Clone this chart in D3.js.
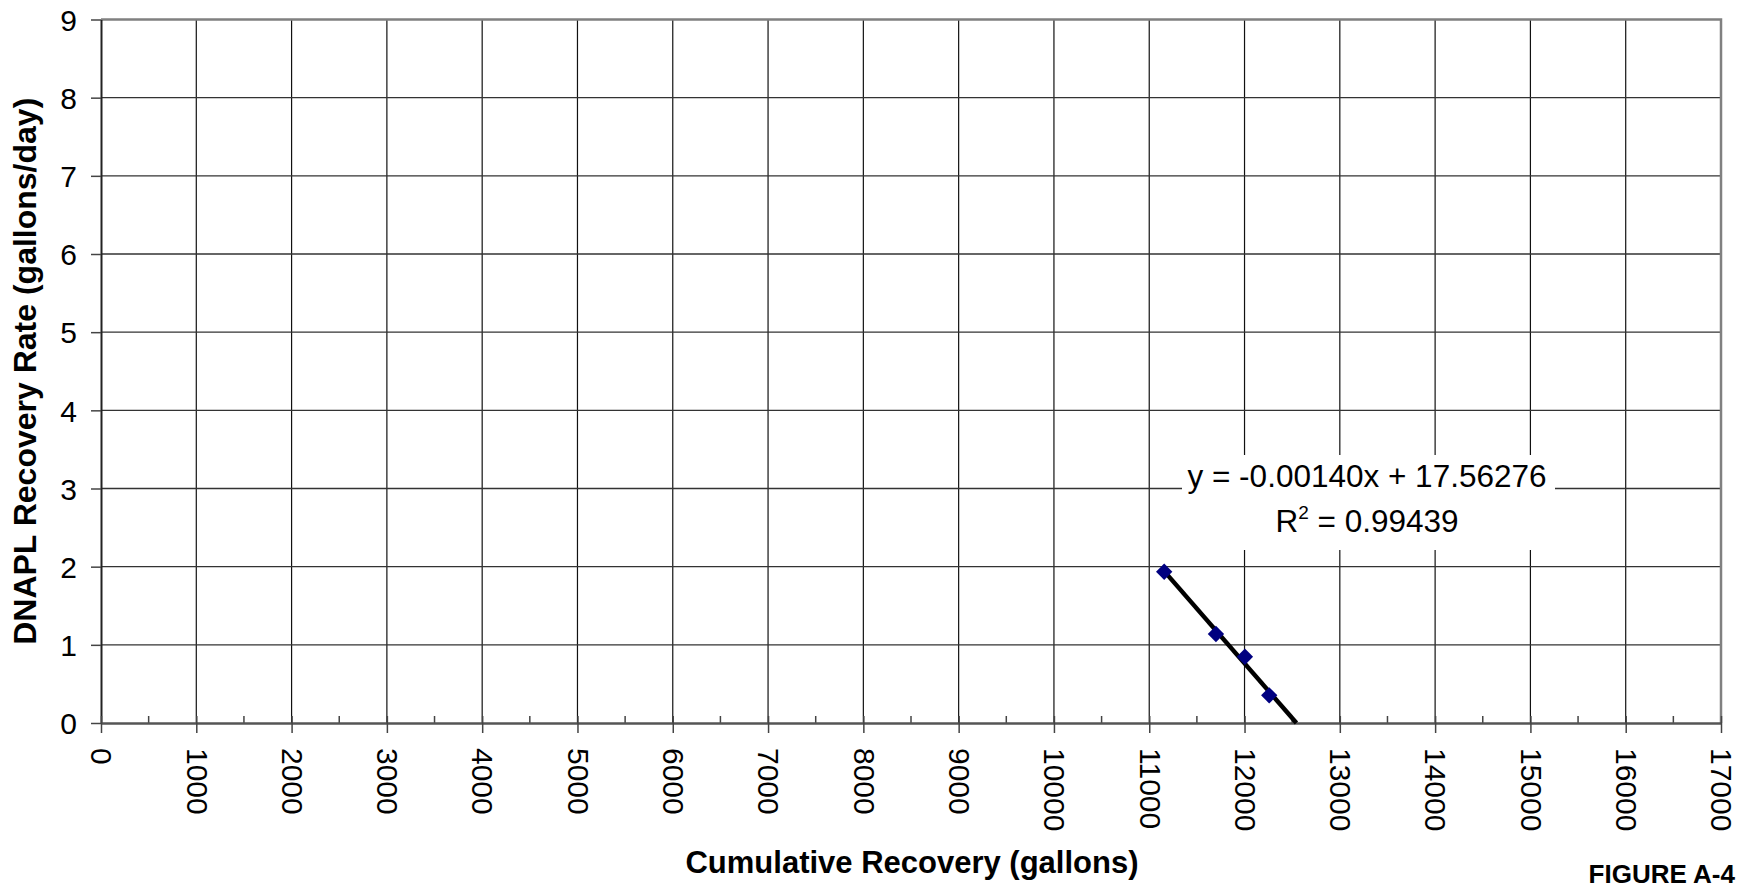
<!DOCTYPE html>
<html>
<head>
<meta charset="utf-8">
<script src="https://cdn.jsdelivr.net/npm/d3@7"></script>
<style>
  body { margin: 0; background: #fff; }
  text { font-family: "Liberation Sans", Arial, sans-serif; fill: #000; }
  .tick text { font-size: 30px; }
  .axisTitle { font-size: 31px; font-weight: bold; }
</style>
</head>
<body>
<script>
// cumulative recovery (gallons) vs DNAPL recovery rate (gallons/day)
var cumulative = [11157, 11700, 12004, 12259];
var rate = [1.935, 1.139, 0.848, 0.354];

// linear trendline as shown on the chart
var trendSlope = -0.00140;
var trendIntercept = 17.56276;
var trendText = "y = -0.00140x + 17.56276";
var r2Text = "0.99439";

var xTicks = d3.range(0, 17001, 1000);
var xMinorTicks = d3.range(500, 17000, 1000);
var yTicks = d3.range(0, 10, 1);

var width = 1750, height = 891;
var margin = { top: 19.5, left: 101, right: 29, bottom: 168 };

var xScale = d3.scaleLinear().domain([0, 17000]).range([margin.left, width - margin.right]);
var yScale = d3.scaleLinear().domain([0, 9]).range([height - margin.bottom, margin.top]);

var svg = d3.select("body").append("svg")
    .attr("width", width)
    .attr("height", height);

// gridlines
svg.append("g").selectAll("line")
    .data(xTicks.slice(1, -1))
    .enter().append("line")
    .attr("x1", function(d) { return xScale(d); })
    .attr("x2", function(d) { return xScale(d); })
    .attr("y1", yScale(9))
    .attr("y2", yScale(0))
    .attr("stroke", "#111")
    .attr("stroke-width", 1.2);

svg.append("g").selectAll("line")
    .data(yTicks.slice(1, -1))
    .enter().append("line")
    .attr("x1", xScale(0))
    .attr("x2", xScale(17000))
    .attr("y1", function(d) { return yScale(d); })
    .attr("y2", function(d) { return yScale(d); })
    .attr("stroke", "#333")
    .attr("stroke-width", 1.4);

// plot border (top + right)
svg.append("path")
    .attr("d", "M" + xScale(0) + "," + yScale(9) + "H" + xScale(17000) + "V" + yScale(0))
    .attr("fill", "none")
    .attr("stroke", "#808080")
    .attr("stroke-width", 2.5);

// y axis
var yAxis = svg.append("g")
    .attr("transform", "translate(" + xScale(0) + ",0)")
    .call(d3.axisLeft(yScale).tickValues(yTicks).tickSize(10).tickPadding(14).tickSizeOuter(0));
yAxis.select(".domain").attr("stroke", "#222").attr("stroke-width", 2);
yAxis.selectAll(".tick line").attr("stroke", "#444").attr("stroke-width", 1.5);
yAxis.selectAll(".tick text").attr("dy", "0.36em");

// x axis minor ticks (inside)
svg.append("g").selectAll("line")
    .data(xMinorTicks)
    .enter().append("line")
    .attr("x1", function(d) { return xScale(d); })
    .attr("x2", function(d) { return xScale(d); })
    .attr("y1", yScale(0))
    .attr("y2", yScale(0) - 7)
    .attr("stroke", "#444")
    .attr("stroke-width", 1.5);

// x axis
var xAxis = svg.append("g")
    .attr("transform", "translate(0," + yScale(0) + ")")
    .call(d3.axisBottom(xScale).tickValues(xTicks).tickSize(10).tickSizeOuter(0).tickFormat(d3.format("d")));
xAxis.select(".domain").attr("stroke", "#555").attr("stroke-width", 2.5);
xAxis.selectAll(".tick line").attr("y1", -7).attr("stroke", "#444").attr("stroke-width", 1.5);
xAxis.selectAll(".tick text")
    .attr("y", 0)
    .attr("x", 25)
    .attr("dy", "0.34em")
    .attr("transform", "rotate(90)")
    .style("text-anchor", "start");

// trendline
var xEnd = -trendIntercept / trendSlope;
var xStart = d3.min(cumulative);
svg.append("line")
    .attr("x1", xScale(xStart))
    .attr("y1", yScale(trendSlope * xStart + trendIntercept))
    .attr("x2", xScale(xEnd))
    .attr("y2", yScale(0))
    .attr("stroke", "#000")
    .attr("stroke-width", 4.5);

// data markers
var pts = cumulative.map(function(c, i) { return { x: c, y: rate[i] }; });
svg.append("g").selectAll("path")
    .data(pts)
    .enter().append("path")
    .attr("d", d3.symbol().type(d3.symbolDiamond2).size(170))
    .attr("transform", function(d) { return "translate(" + xScale(d.x) + "," + yScale(d.y) + ")"; })
    .attr("fill", "#000080");

// trendline label
var lab = svg.append("g");
lab.append("rect")
    .attr("x", 1182).attr("y", 455)
    .attr("width", 373).attr("height", 95)
    .attr("fill", "#fff");
lab.append("text")
    .attr("x", 1367).attr("y", 487)
    .attr("text-anchor", "middle")
    .style("font-size", "31.5px")
    .text(trendText);
var r2 = lab.append("text")
    .attr("x", 1367).attr("y", 532)
    .attr("text-anchor", "middle")
    .style("font-size", "31.5px");
r2.append("tspan").text("R");
r2.append("tspan").attr("dy", -13).style("font-size", "19px").text("2");
r2.append("tspan").attr("dy", 13).text(" = " + r2Text);

// axis titles
svg.append("text")
    .attr("class", "axisTitle")
    .attr("x", 912).attr("y", 873)
    .attr("text-anchor", "middle")
    .text("Cumulative Recovery (gallons)");

svg.append("text")
    .attr("class", "axisTitle")
    .style("font-size", "32px")
    .attr("transform", "translate(36," + (yScale(4.5)) + ") rotate(-90)")
    .attr("text-anchor", "middle")
    .text("DNAPL Recovery Rate (gallons/day)");

svg.append("text")
    .attr("x", 1735).attr("y", 883)
    .attr("text-anchor", "end")
    .style("font-size", "26px")
    .style("font-weight", "bold")
    .text("FIGURE A-4");
</script>
</body>
</html>
